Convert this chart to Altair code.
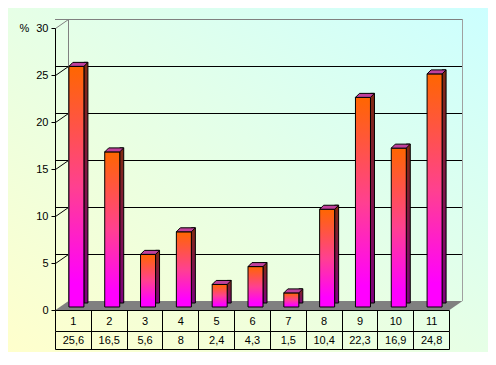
import altair as alt
import pandas as pd

# ---- data ----
categories = ["1", "2", "3", "4", "5", "6", "7", "8", "9", "10", "11"]
values = [25.6, 16.5, 5.6, 8, 2.4, 4.3, 1.5, 10.4, 22.3, 16.9, 24.8]
value_labels = [f"{v:g}".replace(".", ",") for v in values]
y_ticks = [0, 5, 10, 15, 20, 25, 30]
wall_ticks = [5, 10, 15, 20, 25, 30]

# ---- geometry / style ----
W, H = 394, 282
DX, DY = 13, -9          # depth of the back wall
BX = 3.5                 # bar shift inside band
BW = 15                  # bar front width
SD = 4                   # bar depth
FONT = "Liberation Sans"

bars = pd.DataFrame({"cat": categories, "val": values})
walls = pd.DataFrame({"t": wall_ticks})
frame = pd.DataFrame({"lo": [y_ticks[0]], "hi": [y_ticks[-1]]})
one = pd.DataFrame({"k": [0]})

xsc = alt.Scale(domain=categories, paddingInner=0, paddingOuter=0)
ysc = alt.Scale(domain=[y_ticks[0], y_ticks[-1]], nice=False)

bg_grad = alt.Gradient(
    gradient="linear", x1=0, y1=1, x2=1, y2=0,
    stops=[alt.GradientStop(color="#FFFFCC", offset=0),
           alt.GradientStop(color="#E6FFE6", offset=0.5),
           alt.GradientStop(color="#CCFFFF", offset=1)])
front_grad = alt.Gradient(
    gradient="linear", x1=0, y1=0, x2=0, y2=1,
    stops=[alt.GradientStop(color="#FF6600", offset=0),
           alt.GradientStop(color="#FF4090", offset=0.5),
           alt.GradientStop(color="#FF00FF", offset=0.9),
           alt.GradientStop(color="#FF00FF", offset=1)])
side_grad = alt.Gradient(
    gradient="linear", x1=0, y1=0, x2=0, y2=1,
    stops=[alt.GradientStop(color="#802A10", offset=0),
           alt.GradientStop(color="#800080", offset=1)])

axis_common = dict(domainColor="black", tickColor="black", labelColor="black",
                   labelFont=FONT, labelFontSize=11, zindex=1, grid=False)

bg = alt.Chart(one).mark_rect(fill=bg_grad).encode(
    x=alt.value(-47), x2=alt.value(W + 39), y=alt.value(-20), y2=alt.value(H + 42))

floor_path = f"M0,0 L{W},0 L{W + DX},{DY} L{DX},{DY} Z"
floor = alt.Chart(frame).mark_point(
    shape=floor_path, size=4, filled=True, fill="#808080", strokeWidth=0, opacity=1
).encode(x=alt.value(0.5), y=alt.Y("lo:Q", scale=ysc, axis=None))

wall_color = alt.condition(alt.datum.t == 30, alt.value("#808080"), alt.value("black"))
grid = alt.Chart(walls).mark_rule(xOffset=DX, x2Offset=DX, yOffset=DY + 0.5, strokeWidth=1).encode(
    y=alt.Y("t:Q", scale=ysc, axis=None), color=wall_color)
diag = alt.Chart(walls).mark_rule(xOffset=0.5, yOffset=0.5, x2Offset=DX + 0.5, y2Offset=DY + 0.5,
                                  strokeWidth=1).encode(
    x=alt.value(0), x2=alt.value(0),
    y=alt.Y("t:Q", scale=ysc, axis=None), y2=alt.Y2("t"), color=wall_color)
left_edge = alt.Chart(frame).mark_rule(color="#808080", xOffset=DX + 0.5, yOffset=DY,
                                       y2Offset=DY).encode(
    x=alt.value(0), y=alt.Y("lo:Q", scale=ysc, axis=None), y2=alt.Y2("hi"))
right_edge = alt.Chart(frame).mark_rule(color="#A0A0A0", xOffset=DX + 0.5, yOffset=DY,
                                        y2Offset=DY).encode(
    x=alt.value(W), y=alt.Y("lo:Q", scale=ysc, axis=None), y2=alt.Y2("hi"))

lookup_expr = ("[" + ",".join(f"'{s}'" for s in value_labels) + "][indexof(["
               + ",".join(f"'{c}'" for c in categories) + "], datum.value)]")

axis_cat = alt.Axis(orient="bottom", title=None, labelAngle=0, tickBand="extent",
                    tickSize=21, labelPadding=-10, labelBaseline="middle",
                    labelOverlap=False, **axis_common)
axis_val = alt.Axis(orient="bottom", offset=21, title=None, labelAngle=0, tickBand="extent",
                    tickSize=18, labelPadding=-9, labelBaseline="middle",
                    labelOverlap=False, labelExpr=lookup_expr, **axis_common)
axis_end = alt.Axis(orient="bottom", offset=39, title=None, ticks=False, labels=False,
                    domain=True, **axis_common)
axis_y = alt.Axis(values=y_ticks, tickSize=4, labelPadding=3, title="%", titleAngle=0,
                  titleX=-31, titleY=0, titleAlign="center", titleBaseline="middle",
                  titleFont=FONT, titleFontSize=11, titleFontWeight="normal",
                  titleColor="black", **axis_common)

side = alt.Chart(bars).mark_bar(
    width=SD, xOffset=BX + BW / 2 + SD / 2, yOffset=-3 - SD, y2Offset=-4,
    fill=side_grad, stroke="black", strokeWidth=1
).encode(x=alt.X("cat:N", sort=categories, scale=xsc, axis=axis_val),
         y=alt.Y("val:Q", scale=ysc, axis=None))

front = alt.Chart(bars).mark_bar(
    width=BW, xOffset=BX, yOffset=-3, y2Offset=-2,
    fill=front_grad, stroke="black", strokeWidth=1
).encode(x=alt.X("cat:N", sort=categories, scale=xsc, axis=axis_cat),
         y=alt.Y("val:Q", scale=ysc, axis=axis_y))

top_path = f"M{-BW / 2},0 L{BW / 2},0 L{BW / 2 + SD},{-SD} L{-BW / 2 + SD},{-SD} Z"
top = alt.Chart(bars).mark_point(
    shape=top_path, size=4, filled=True, fill="#C0409C", stroke="black",
    strokeWidth=1, opacity=1, xOffset=BX, yOffset=-3
).encode(x=alt.X("cat:N", sort=categories, scale=xsc, axis=axis_end),
         y=alt.Y("val:Q", scale=ysc, axis=None))

chart = alt.layer(bg, floor, grid, diag, left_edge, right_edge, side, front, top).resolve_axis(
    x="independent", y="independent"
).properties(
    width=W, height=H,
    autosize=alt.AutoSizeParams(type="none"),
    padding={"left": 47, "top": 20, "right": 39, "bottom": 42},
).configure_view(stroke=None)

chart.save("out.html", embed_options={"renderer": "svg", "actions": False})
